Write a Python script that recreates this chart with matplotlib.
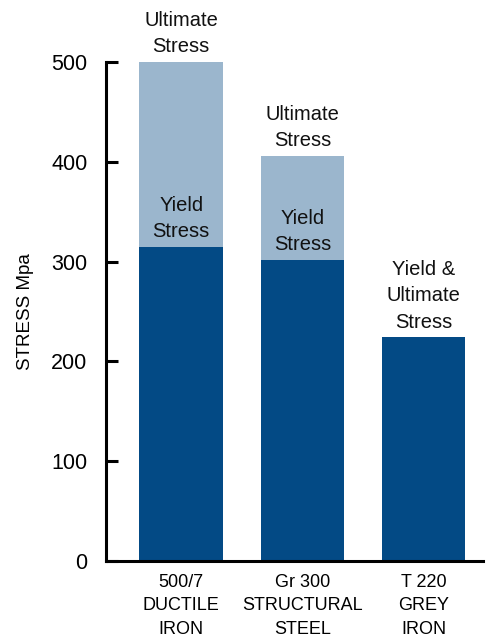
import matplotlib
matplotlib.use('Agg')
import matplotlib.pyplot as plt

# 데이터
materials = ['500/7\nDUCTILE\nIRON', 'Gr 300\nSTRUCTURAL\nSTEEL', 'T 220\nGREY\nIRON']
yield_stress = [315, 302, 224]
ultimate_stress = [500, 406, 224]
top_labels = ['Ultimate\nStress', 'Ultimate\nStress', 'Yield &\nUltimate\nStress']
yield_labels = ['Yield\nStress', 'Yield\nStress', None]

dark = '#034a85'
light = '#9bb6cd'

plt.rcParams['font.family'] = ['Liberation Sans', 'DejaVu Sans']

fig = plt.figure(figsize=(4.87, 6.37), dpi=100)
ax = fig.add_axes([0.2177, 0.1193, 0.774, 0.7834])

x = list(range(len(materials)))
extra = [u - y for u, y in zip(ultimate_stress, yield_stress)]
ax.bar(x, yield_stress, width=0.69, color=dark, zorder=2)
ax.bar(x, extra, bottom=yield_stress, width=0.69, color=light, zorder=2)

# 막대 위 라벨
for i in x:
    ax.annotate(top_labels[i], (i, ultimate_stress[i]), xytext=(0, 4),
                textcoords='offset points', ha='center', va='bottom',
                fontsize=14.5, linespacing=1.5, color='#111111', annotation_clip=False)
    if yield_labels[i]:
        ax.annotate(yield_labels[i], (i, yield_stress[i]), xytext=(0, 4),
                    textcoords='offset points', ha='center', va='bottom',
                    fontsize=14.5, linespacing=1.45, color='#111111')

ax.set_xlim(-0.62, 2.49)
ax.set_ylim(0, 500)
ax.set_yticks([0, 100, 200, 300, 400, 500])
ax.set_xticks(x)
ax.set_xticklabels(materials, fontsize=13, linespacing=1.52)
ax.set_ylabel('STRESS Mpa', fontsize=13.5)
ax.yaxis.set_label_coords(-0.19, 0.5)

for s in ['top', 'right']:
    ax.spines[s].set_visible(False)
for s in ['left', 'bottom']:
    ax.spines[s].set_linewidth(2.2)
ax.tick_params(axis='y', direction='in', length=8.6, width=2.2, pad=13.5, labelsize=15.5)
ax.tick_params(axis='x', length=0, pad=9)

plt.savefig('out.png', dpi=100)
